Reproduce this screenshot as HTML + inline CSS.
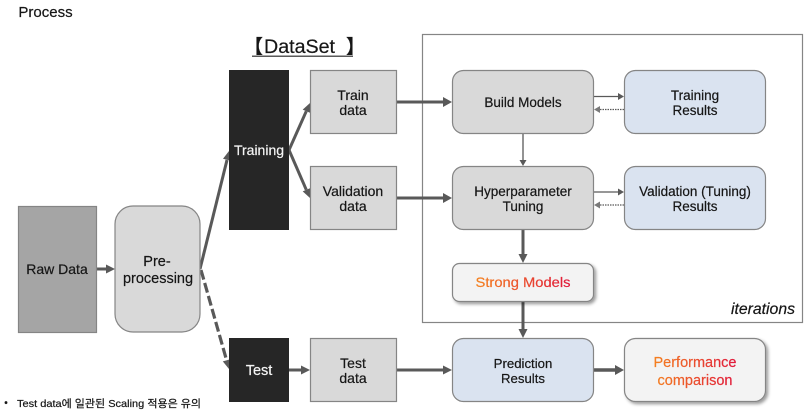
<!DOCTYPE html>
<html><head><meta charset="utf-8">
<style>
html,body{margin:0;padding:0;background:#fff;width:809px;height:418px;overflow:hidden}
svg{display:block}
text{font-family:"Liberation Sans","Noto Sans CJK KR",sans-serif;text-anchor:middle;fill:#161616;stroke:#161616;stroke-width:.2;font-size:13.5px}
.w{fill:#f4f4f4;stroke:#f4f4f4}
.m{font-size:14px}
.l{stroke:#595959;fill:none}
.a{fill:#595959;stroke:none}
.b{fill:#d9d9d9;stroke:#858585;stroke-width:1.2}
.bl{fill:#dae3f0;stroke:#858585;stroke-width:1.2}
.s{fill:#f3f3f3;stroke:#858585;stroke-width:1.2;filter:url(#sh)}
</style></head><body>
<svg width="809" height="418" viewBox="0 0 809 418" xmlns="http://www.w3.org/2000/svg">
<defs>
<linearGradient id="g1" gradientUnits="userSpaceOnUse" x1="476" y1="0" x2="571" y2="0"><stop offset="0" stop-color="#f5821f"/><stop offset="1" stop-color="#e0183c"/></linearGradient>
<linearGradient id="g2" gradientUnits="userSpaceOnUse" x1="653" y1="0" x2="737" y2="0"><stop offset="0" stop-color="#f5821f"/><stop offset="1" stop-color="#e0183c"/></linearGradient>
<filter id="sh" x="-10%" y="-20%" width="125%" height="150%"><feDropShadow dx="2" dy="2" stdDeviation="1.6" flood-color="#000" flood-opacity=".4"/></filter>
</defs>

<text x="45.500" y="17" style="font-size:15px">Process</text>

<text x="253.500" y="53" style="font-size:19px;font-weight:bold;font-family:'Noto Sans CJK KR',sans-serif">【</text>
<text x="299.500" y="53" style="font-size:19px" textLength="71" lengthAdjust="spacingAndGlyphs">DataSet</text>
<text x="355.500" y="53" style="font-size:19px;font-weight:bold;font-family:'Noto Sans CJK KR',sans-serif">】</text>
<rect x="252" y="55.500" width="101" height="1.500" fill="#5a5a5a"/>

<rect x="422.500" y="34.500" width="380" height="288" fill="#fff" stroke="#858585" stroke-width="1.2"/>
<text x="763" y="314" style="font-size:15.500px;font-style:italic" textLength="64" lengthAdjust="spacingAndGlyphs">iterations</text>

<!-- connectors -->
<path class="l" stroke-width="3" d="M97 269H108"/><path class="a" d="M106 264.500L115 269L106 273.500Z"/>
<path class="l" stroke-width="3" d="M200 269L227 160"/><path class="a" d="M230.800 160.700L229 151L223 158.800Z"/>
<path class="l" stroke-width="3.200" stroke-dasharray="10 3.500" d="M201 270L226.600 360.300"/><path class="a" d="M230.400 359.200L229 369L222.800 361.400Z"/>
<path class="l" stroke-width="3" d="M289 150L306.300 111.200"/><path class="a" d="M310 112.800L310 103L302.700 109.600Z"/>
<path class="l" stroke-width="3" d="M289 150L306.300 189.800"/><path class="a" d="M310 188.200L310 198L302.700 191.400Z"/>
<path class="l" stroke-width="3" d="M289 370H303"/><path class="a" d="M301 365.500L310 370L301 374.500Z"/>
<path class="l" stroke-width="3" d="M397 102H445"/><path class="a" d="M443 97L452 102L443 107Z"/>
<path class="l" stroke-width="3" d="M397 198H445"/><path class="a" d="M443 193L452 198L443 203Z"/>
<path class="l" stroke-width="3" d="M397 370H445"/><path class="a" d="M443 365.500L452 370L443 374.500Z"/>
<path class="l" stroke-width="1.300" d="M594 96.500H620"/><path class="a" d="M618 93L624 96.500L618 100Z"/>
<path class="l" stroke-width="1.200" stroke-dasharray="1.500 1" d="M624 109.500H599"/><path class="a" d="M600 106L594 109.500L600 113Z" opacity=".8"/>
<path class="l" stroke-width="1.300" d="M594 192H620"/><path class="a" d="M618 188.500L624 192L618 195.500Z"/>
<path class="l" stroke-width="1.200" stroke-dasharray="1.500 1" d="M624 205H599"/><path class="a" d="M600 201.500L594 205L600 208.500Z" opacity=".8"/>
<path class="l" stroke-width="1.300" d="M523 134V161"/><path class="a" d="M519.500 160L523 166L526.500 160Z"/>
<path class="l" stroke-width="3" d="M523 230V256"/><path class="a" d="M518.500 254L523 263L527.500 254Z"/>
<path class="l" stroke-width="3" d="M523 301V331"/><path class="a" d="M518.500 329L523 338L527.500 329Z"/>
<path class="l" stroke-width="3.400" d="M594 370H617"/><path class="a" d="M615 365L624 370L615 375Z"/>

<!-- nodes -->
<rect x="18.500" y="206.500" width="78" height="126" fill="#a5a5a5" stroke="#858585" stroke-width="1.2"/>
<text x="57" y="274" class="m">Raw Data</text>
<rect x="115" y="206" width="85" height="126" rx="18" class="b"/>
<text x="157" y="266" style="font-size:14.500px">Pre-</text><text x="158" y="283" style="font-size:14.500px">processing</text>

<rect x="229" y="70" width="60" height="160" fill="#262626"/>
<text x="259" y="155" class="w m">Training</text>
<rect x="229" y="338" width="60" height="64" fill="#262626"/>
<text x="259" y="375" class="w" style="font-size:14.500px">Test</text>

<rect x="310.500" y="70.500" width="86" height="63" class="b"/>
<text x="353" y="100" class="m">Train</text><text x="353" y="115" class="m">data</text>
<rect x="310.500" y="166.500" width="86" height="63" class="b"/>
<text x="353" y="196" class="m">Validation</text><text x="353" y="211" class="m">data</text>
<rect x="310.500" y="338.500" width="86" height="63" class="b"/>
<text x="353" y="368" class="m">Test</text><text x="353" y="383" class="m">data</text>

<rect x="452.500" y="70.500" width="141" height="63" rx="11" class="b"/>
<text x="523" y="107">Build Models</text>
<rect x="624.500" y="70.500" width="141" height="63" rx="11" class="bl"/>
<text x="695" y="100">Training</text><text x="695" y="115">Results</text>
<rect x="452.500" y="166.500" width="141" height="63" rx="11" class="b"/>
<text x="523" y="196">Hyperparameter</text><text x="523" y="211">Tuning</text>
<rect x="624.500" y="166.500" width="141" height="63" rx="11" class="bl"/>
<text x="695" y="196">Validation (Tuning)</text><text x="695" y="211">Results</text>
<rect x="452.500" y="263.500" width="141" height="38" rx="7" class="s"/>
<text x="523" y="287" style="fill:url(#g1);stroke:url(#g1);font-size:14px" textLength="95" lengthAdjust="spacingAndGlyphs">Strong Models</text>
<rect x="452.500" y="338.500" width="141" height="63" rx="11" class="bl"/>
<text x="523" y="368" style="font-size:13.200px">Prediction</text><text x="523" y="383" style="font-size:13.200px">Results</text>
<rect x="624.500" y="338.500" width="141" height="63" rx="11" class="s"/>
<text x="695" y="367" style="fill:url(#g2);stroke:url(#g2);font-size:14.500px">Performance</text><text x="695" y="385" style="fill:url(#g2);stroke:url(#g2);font-size:14.500px">comparison</text>

<text x="6" y="406" style="font-size:10px">•</text>
<text x="109" y="407" style="font-size:10.500px" textLength="184" lengthAdjust="spacingAndGlyphs">Test data에 일관된 Scaling 적용은 유의</text>
</svg>
</body></html>
